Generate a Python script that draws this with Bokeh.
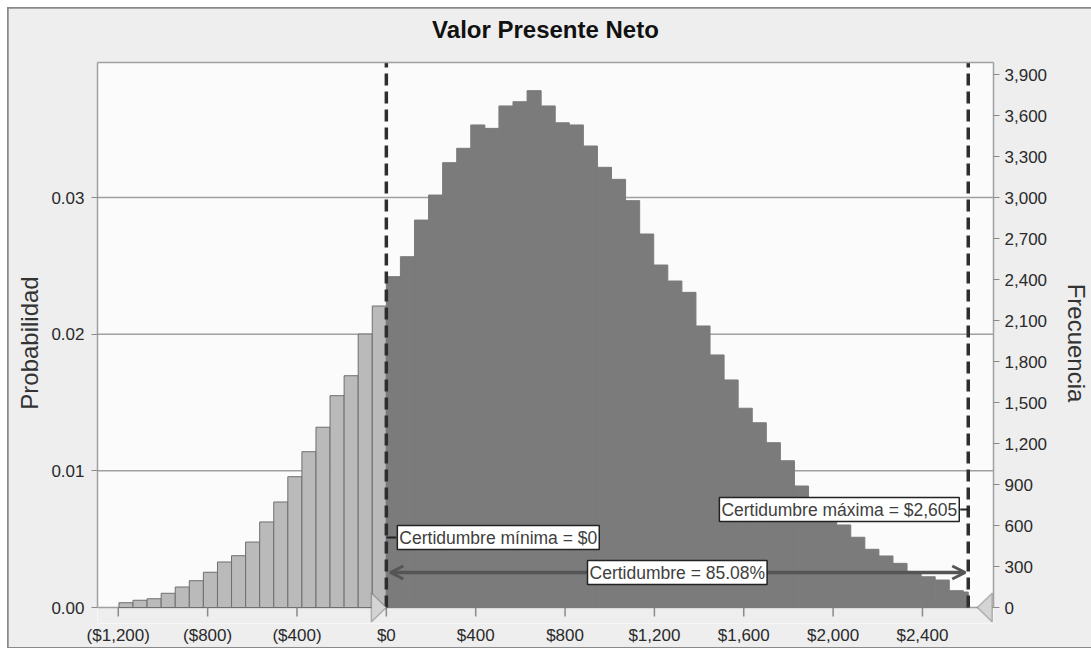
from bokeh.plotting import figure
from bokeh.models import (Range1d, LinearAxis, FixedTicker, Label, Arrow, OpenHead,
                          PolyAnnotation, BoxAnnotation, Span, ColumnDataSource)
from bokeh.embed import file_html
from bokeh.resources import INLINE

# ---------------- data ----------------
chart_title = "Valor Presente Neto"
trials = 100000
bin_width = 63.0
first_bin_start = -1197.0
frequencies = [35, 53, 64, 104, 150, 196, 258, 333, 379, 479, 626, 772, 957, 1140, 1319,
               1550, 1696, 2001, 2206,
               2421, 2567, 2835, 3018, 3255, 3360, 3531, 3506, 3670, 3701, 3782, 3670,
               3547, 3531, 3377, 3221, 3133, 2977, 2733, 2506, 2389, 2306, 2060, 1848,
               1665, 1458, 1352, 1206, 1074, 889, 801, 699, 604, 514, 426, 377, 323,
               262, 225, 201, 123, 113]
cert_min = 0
cert_max = 2605
certainty_pct = 85.08

x_ticks = [-1200, -800, -400, 0, 400, 800, 1200, 1600, 2000, 2400]
x_tick_labels = ["($1,200)", "($800)", "($400)", "$0", "$400", "$800", "$1,200",
                 "$1,600", "$2,000", "$2,400"]
prob_ticks = [0.0, 0.01, 0.02, 0.03]
prob_tick_labels = ["0.00", "0.01", "0.02", "0.03"]
freq_ticks = [0, 300, 600, 900, 1200, 1500, 1800, 2100, 2400, 2700, 3000, 3300, 3600, 3900]
freq_tick_labels = ["0", "300", "600", "900", "1,200", "1,500", "1,800", "2,100", "2,400",
                    "2,700", "3,000", "3,300", "3,600", "3,900"]

# ---------------- layout constants ----------------
FW, FH = 896, 545          # plotting area above the baseline
EXT = 16                   # extra px below the baseline for the grabbers
X0, X1 = -1293.0, 2718.0
PMAX = 0.03988
FMAX = PMAX * trials
pxu = FW / (X1 - X0)          # px per data unit (x)
pyu = FH / PMAX               # px per probability unit
PMIN = -EXT / pyu
FMIN = PMIN * trials

SANS = "Liberation Sans"
EDGE = "#a0a0a0"
BORDER_BG = "#eeeeee"

p = figure(frame_width=FW, frame_height=FH + EXT, output_backend="svg", toolbar_location=None,
           x_range=Range1d(X0, X1), y_range=Range1d(PMIN, PMAX),
           x_axis_location=None, y_axis_location=None,
           min_border_left=89, min_border_right=90, min_border_top=54, min_border_bottom=24)
p.extra_y_ranges = {"freq": Range1d(FMIN, FMAX)}
p.grid.grid_line_color = None

p.border_fill_color = BORDER_BG
p.background_fill_color = "#fbfbfb"
p.outline_line_color = None
p.styles = {"margin": "8px", "outline": "2px solid #8a8a8a", "outline-offset": "-1px"}

# strip below the baseline looks like the surrounding border
p.add_layout(BoxAnnotation(top=0, fill_color=BORDER_BG, fill_alpha=1, line_color=None,
                           level="underlay"))
# baseline of the plotting area
p.add_layout(Span(location=0, dimension="width", line_color=EDGE, line_width=1.5,
                  level="underlay"))

# title: carried by an axis on top (its line is the top edge of the plotting area)
title_axis = LinearAxis(ticker=FixedTicker(ticks=[]), axis_label=chart_title)
title_axis.axis_line_color = EDGE
title_axis.axis_line_width = 1.5
title_axis.major_tick_line_color = None
title_axis.minor_tick_line_color = None
title_axis.major_tick_out = 0
title_axis.major_label_standoff = 0
title_axis.axis_label_standoff = 20
title_axis.axis_label_text_font = SANS
title_axis.axis_label_text_font_style = "bold"
title_axis.axis_label_text_font_size = "24px"
title_axis.axis_label_text_color = "#111111"
p.add_layout(title_axis, "above")

# bars
lefts, rights, tops, colors, lines = [], [], [], [], []
for i, f in enumerate(frequencies):
    l = first_bin_start + i * bin_width
    r = min(l + bin_width, cert_max)
    centre = (l + r) / 2
    lefts.append(l)
    rights.append(r)
    tops.append(f / trials)
    if cert_min <= centre <= cert_max:
        colors.append("#7b7b7b")
        lines.append("#7b7b7b")
    else:
        colors.append("#bababa")
        lines.append("#6f6f6f")
src = ColumnDataSource(dict(left=lefts, right=rights, top=tops, bottom=[0] * len(tops),
                            fill=colors, line=lines))
p.quad(left="left", right="right", top="top", bottom="bottom", source=src,
       fill_color="fill", line_color="line", line_width=1)

# x tick marks hanging from the baseline
p.segment(x0=x_ticks, x1=x_ticks, y0=[0] * len(x_ticks), y1=[-9 / pyu] * len(x_ticks),
          line_color="#8a8a8a", line_width=1.5)

# axes
xax = LinearAxis(ticker=FixedTicker(ticks=x_ticks))
xax.major_label_overrides = {t: s for t, s in zip(x_ticks, x_tick_labels)}
p.add_layout(xax, "below")

yax = LinearAxis(ticker=FixedTicker(ticks=prob_ticks), axis_label="Probabilidad",
                 bounds=(0, PMAX))
yax.major_label_overrides = {t: s for t, s in zip(prob_ticks, prob_tick_labels)}
p.add_layout(yax, "left")

right_axis = LinearAxis(y_range_name="freq", ticker=FixedTicker(ticks=freq_ticks),
                        axis_label="Frecuencia", bounds=(0, FMAX))
right_axis.major_label_overrides = {t: s for t, s in zip(freq_ticks, freq_tick_labels)}
p.add_layout(right_axis, "right")

for ax in [xax, yax, right_axis]:
    ax.axis_line_color = EDGE
    ax.axis_line_width = 1.5
    ax.major_tick_line_color = "#8a8a8a"
    ax.major_tick_out = 6
    ax.major_tick_in = 0
    ax.minor_tick_line_color = None
    ax.major_label_text_font = SANS
    ax.major_label_text_font_size = "17px"
    ax.major_label_text_color = "#2a2a2a"
    ax.axis_label_text_font = SANS
    ax.axis_label_text_font_size = "24px"
    ax.axis_label_text_font_style = "normal"
    ax.axis_label_text_color = "#333333"
xax.axis_line_color = None
xax.major_tick_line_color = None
xax.major_tick_out = 0
xax.major_label_standoff = 2
yax.major_label_standoff = 7
yax.axis_label_standoff = 5
right_axis.major_label_standoff = 5
right_axis.axis_label_standoff = 13

# horizontal grid lines at the probability ticks
for t in prob_ticks[1:]:
    p.add_layout(Span(location=t, dimension="width", line_color=EDGE, line_width=1.5,
                      level="underlay"))

# certainty bounds (dashed)
p.segment(x0=[cert_min, cert_max], x1=[cert_min, cert_max], y0=[0, 0], y1=[PMAX, PMAX],
          line_color="#2e2e2e", line_width=3.5, line_dash="12 6")

# arrow of certainty range
arrow_y = 35 / pyu
p.add_layout(Arrow(start=OpenHead(size=13, line_color="#555555", line_width=3),
                   end=OpenHead(size=13, line_color="#555555", line_width=3),
                   x_start=cert_min + 4 / pxu, x_end=cert_max - 3 / pxu,
                   y_start=arrow_y, y_end=arrow_y,
                   line_color="#555555", line_width=3.5))

label_style = dict(text_font=SANS, text_font_size="17.5px", text_color="#404040",
                   text_baseline="middle", background_fill_color="white",
                   border_line_color="#222222", border_line_width=1.5, padding=2)

p.add_layout(Label(x=(cert_min + cert_max) / 2, y=arrow_y, text=f"Certidumbre = {certainty_pct:.2f}%",
                   text_align="center", **label_style))

min_y = 70 / pyu
p.segment(x0=[cert_min], x1=[cert_min + 10 / pxu], y0=[min_y], y1=[min_y],
          line_color="#222222", line_width=2)
p.add_layout(Label(x=cert_min, y=min_y, x_offset=11, text=f"Certidumbre mínima = ${cert_min:,}",
                   text_align="left", **label_style))

max_y = 98 / pyu
p.segment(x0=[cert_max - 8 / pxu], x1=[cert_max], y0=[max_y], y1=[max_y],
          line_color="#222222", line_width=2)
p.add_layout(Label(x=cert_max, y=max_y, x_offset=-9, text=f"Certidumbre máxima = ${cert_max:,}",
                   text_align="right", **label_style))

# grabber triangles
tw, th = 15 / pxu, 14.5 / pyu
gap = 9 / pxu
p.add_layout(PolyAnnotation(xs=[cert_min, cert_min - tw, cert_min - tw],
                            ys=[0, th, -th], fill_color="#d4d4d4", fill_alpha=1,
                            line_color="#3a3a3a", line_width=1.5))
p.add_layout(PolyAnnotation(xs=[cert_max + gap, cert_max + gap + tw, cert_max + gap + tw],
                            ys=[0, th, -th], fill_color="#d4d4d4", fill_alpha=1,
                            line_color="#3a3a3a", line_width=1.5))

open("out.html", "w").write(file_html(p, INLINE))
